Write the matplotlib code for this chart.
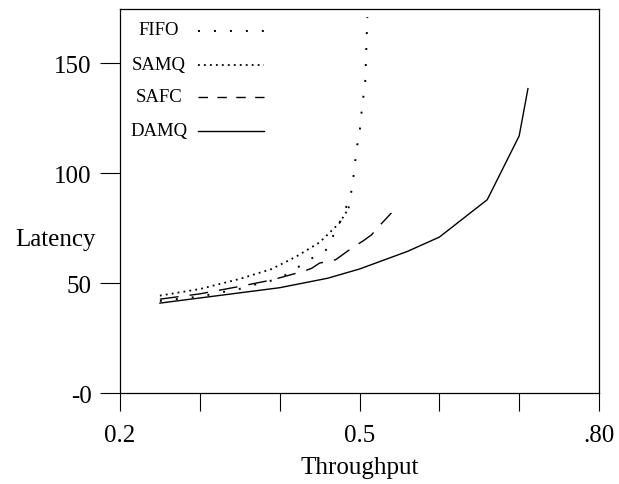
import matplotlib
matplotlib.use("Agg")
import matplotlib.pyplot as plt

plt.rcParams['font.family'] = ['Liberation Serif', 'DejaVu Serif']
plt.rcParams['lines.scale_dashes'] = False

# ---- data ----
fifo_x = [0.25, 0.30, 0.35, 0.38, 0.40, 0.415, 0.43, 0.445, 0.46, 0.467, 0.478,
          0.489, 0.492, 0.4965, 0.500, 0.504, 0.507, 0.5098]
fifo_y = [42.0, 44.0, 47.5, 50.5, 52.0, 55.7, 58.8, 62.5, 65.6, 71.6, 79.7,
          90.0, 97.0, 111.5, 118.3, 133.0, 139.8, 171.0]

samq_x = [0.25, 0.30, 0.35, 0.39, 0.42, 0.45, 0.465, 0.475, 0.482, 0.488]
samq_y = [44.4, 47.4, 52.0, 56.5, 62.0, 68.6, 73.9, 77.5, 81.5, 85.5]

safc_x = [0.25, 0.30, 0.35, 0.39, 0.41, 0.43, 0.44, 0.45, 0.47, 0.49, 0.505,
          0.515, 0.522, 0.54]
safc_y = [42.8, 45.2, 48.6, 51.5, 53.5, 55.5, 56.8, 59.2, 60.7, 65.9, 69.4,
          72.0, 75.0, 82.0]

damq_x = [0.25, 0.40, 0.46, 0.50, 0.56, 0.60, 0.66, 0.70, 0.711]
damq_y = [41.0, 48.0, 52.3, 56.5, 64.5, 71.0, 88.0, 117.0, 138.5]

series_names = ["FIFO", "SAMQ", "SAFC", "DAMQ"]
x_ticks = [0.2, 0.3, 0.4, 0.5, 0.6, 0.7, 0.8]
x_tick_labels = ["0.2", "", "", "0.5", "", "", ".80"]
y_ticks = [0, 50, 100, 150]
y_tick_labels = ["-0", "50", "100", "150"]

# ---- styles ----
styles = {
    "FIFO": dict(lw=1.4, ls=(0, (1.4, 10.1)), dash_capstyle='butt'),
    "SAMQ": dict(lw=1.3, ls=(0, (1.3, 3.0)), dash_capstyle='butt'),
    "SAFC": dict(lw=1.0, ls=(0, (13.5, 8.0))),
    "DAMQ": dict(lw=1.0, ls='-'),
}
legend_styles = {
    "FIFO": dict(lw=1.4, ls=(0, (1.4, 10.1)), dash_capstyle='butt'),
    "SAMQ": dict(lw=1.3, ls=(0, (1.3, 3.0)), dash_capstyle='butt'),
    "SAFC": dict(lw=1.0, ls=(0, (6.8, 6.8))),
    "DAMQ": dict(lw=1.0, ls='-'),
}

fig = plt.figure(figsize=(6.19, 4.85), dpi=100)
ax = fig.add_axes([120 / 619, 1 - 394.3 / 485, 479 / 619, 384.3 / 485])

data = {"FIFO": (fifo_x, fifo_y), "SAMQ": (samq_x, samq_y),
        "SAFC": (safc_x, safc_y), "DAMQ": (damq_x, damq_y)}
for name in series_names:
    xs, ys = data[name]
    ax.plot(xs, ys, color='black', **styles[name])

ax.set_xlim(0.2, 0.8)
ax.set_ylim(0, 174.7)

ax.set_xticks(x_ticks)
ax.set_xticklabels(x_tick_labels, fontsize=18)
ax.set_yticks(y_ticks)
ax.set_yticklabels(y_tick_labels, fontsize=18)
ax.tick_params(axis='x', direction='out', length=13, width=0.8, pad=9)
ax.tick_params(axis='y', direction='out', length=14.4, width=0.8, pad=6)
for sp in ax.spines.values():
    sp.set_linewidth(0.9)

ax.set_xlabel("Throughput", fontsize=18)
ax.xaxis.set_label_coords(0.5, -0.192)
ax.xaxis.label.set_va('center')
ax.set_ylabel("Latency", fontsize=18, rotation=0)
ax.yaxis.set_label_coords(-0.1357, 0.4015)
ax.yaxis.label.set_va('center')
ax.yaxis.label.set_ha('center')

# ---- manual legend (text left of the sample line) ----
leg_text_y = [0.9454, 0.8556, 0.7723, 0.6851]
for name, ty in zip(series_names, leg_text_y):
    ax.text(0.0814, ty, name, transform=ax.transAxes, ha='center', va='center',
            fontsize=13.5)
    ax.plot([0.1628, 0.3006], [ty - 0.002, ty - 0.002], transform=ax.transAxes,
            color='black', **legend_styles[name])

fig.savefig("out.png", dpi=100)
